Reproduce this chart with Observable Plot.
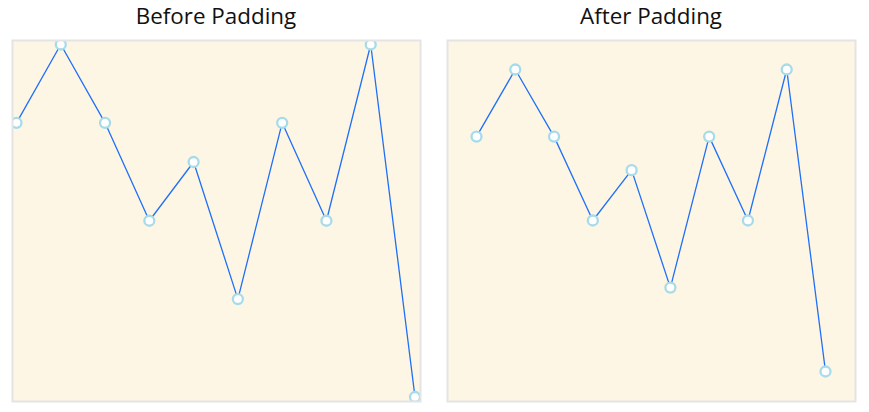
<!DOCTYPE html>
<html>
<head>
<meta charset="utf-8">
<script src="https://cdn.jsdelivr.net/npm/d3@7"></script>
<script src="https://cdn.jsdelivr.net/npm/@observablehq/plot@0.6"></script>
<style>
  html, body { margin: 0; padding: 0; background: #fff; }
  #wrap { position: relative; width: 869px; height: 412px; font-family: "Open Sans", sans-serif; }
  .col { position: absolute; top: 0; }
  .title { height: 39px; line-height: 31px; text-align: center; font-size: 22.4px; color: #111; white-space: nowrap; }
  svg { display: block; }
</style>
</head>
<body>
<div id="wrap"></div>
<script>
const xIndex = [0, 1, 2, 3, 4, 5, 6, 7, 8, 9];
const values = [3, 5, 3, 0.5, 2, -1.5, 3, 0.5, 5, -4];
const titles = ["Before Padding", "After Padding"];

const data = xIndex.map((x, i) => ({x, y: values[i]}));

const bg = "#fdf6e4";
const border = "#e4e4e4";
const lineColor = "#1f6ff7";
const dotStroke = "#a8dbe9";

function panel(opts) {
  return Plot.plot({
    width: opts.width,
    height: 373,
    marginTop: 1,
    marginBottom: 11,
    marginLeft: opts.ml,
    marginRight: opts.mr,
    insetLeft: opts.il,
    insetRight: opts.ir,
    insetTop: opts.it,
    insetBottom: opts.ib,
    x: {axis: null, domain: d3.extent(xIndex)},
    y: {axis: null, domain: d3.extent(values)},
    marks: [
      Plot.frame({fill: bg, stroke: null}),
      Plot.line(data, {x: "x", y: "y", stroke: lineColor, strokeWidth: 1.3, clip: true}),
      Plot.dot(data, {x: "x", y: "y", r: 5, fill: "white", stroke: dotStroke, strokeWidth: 2.3, clip: true}),
      Plot.frame({stroke: border, strokeWidth: 2, fill: null})
    ]
  });
}

const wrap = document.getElementById("wrap");
const configs = [
  {left: 0, width: 434, ml: 12, mr: 14, il: 4, ir: 5.5, it: 4, ib: 4.5},
  {left: 434, width: 435, ml: 13, mr: 14, il: 29, ir: 30, it: 29, ib: 30}
];
configs.forEach((c, i) => {
  const col = document.createElement("div");
  col.className = "col";
  col.style.left = c.left + "px";
  col.style.width = c.width + "px";
  const t = document.createElement("div");
  t.className = "title";
  t.style.paddingLeft = c.ml + "px";
  t.style.paddingRight = c.mr + "px";
  t.textContent = titles[i];
  col.appendChild(t);
  col.appendChild(panel(c));
  wrap.appendChild(col);
});
</script>
</body>
</html>
